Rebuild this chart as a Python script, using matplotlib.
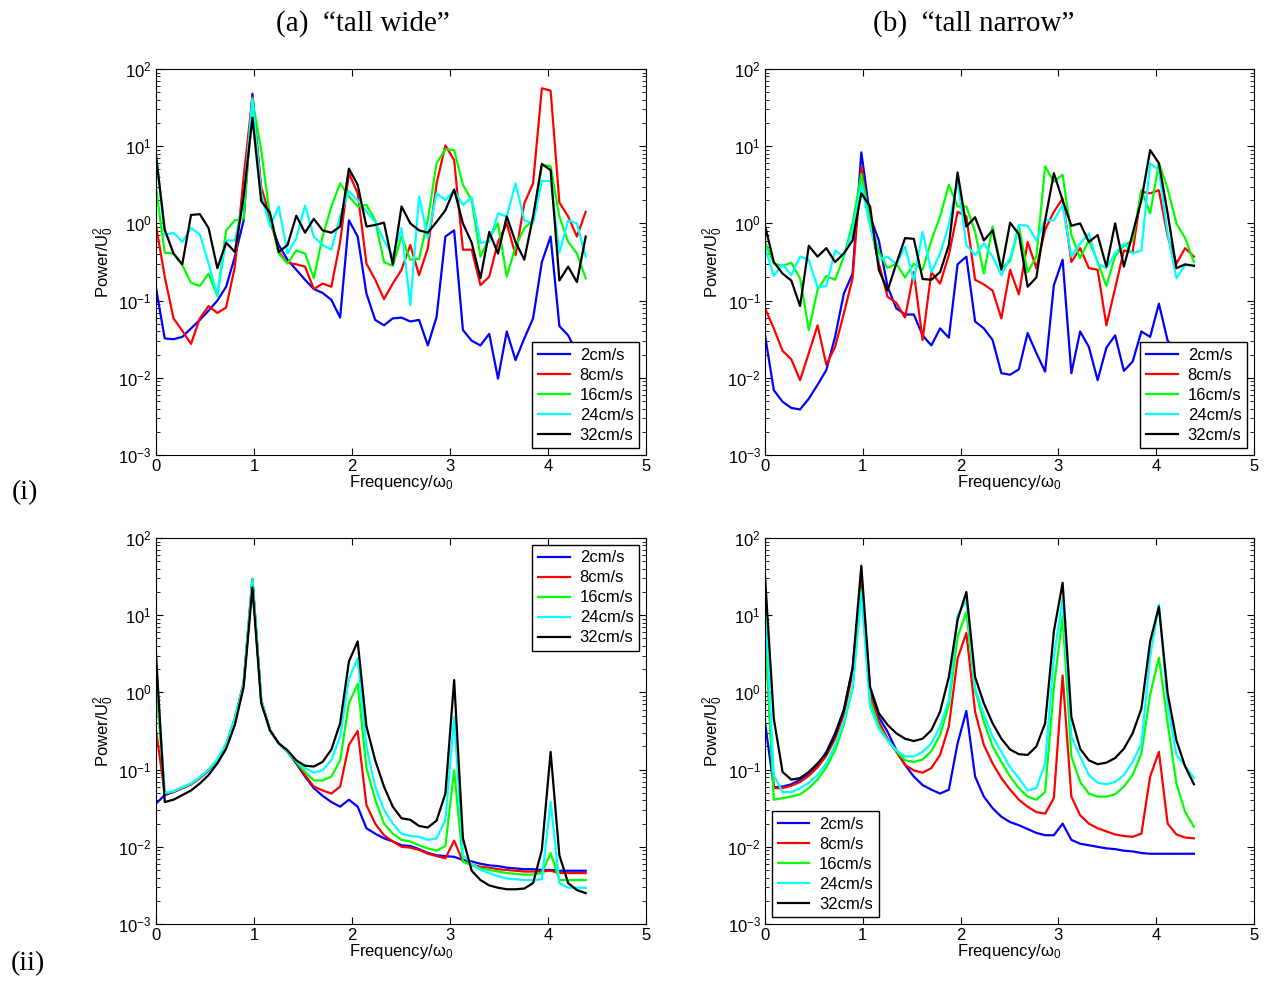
import matplotlib
matplotlib.use("Agg")
import matplotlib.pyplot as plt
import numpy as np

plt.rcParams['font.family'] = ['Liberation Sans', 'DejaVu Sans']
plt.rcParams['mathtext.default'] = 'regular'

# frequency grid (in units of omega_0)
freq = np.arange(50) * 0.0895

speeds = ['2cm/s', '8cm/s', '16cm/s', '24cm/s', '32cm/s']
colors = ['#0000ff', '#ff0000', '#00ff00', '#00ffff', '#000000']

# log10(Power/U0^2)
# (a)(i) tall wide, top row
tw_top = [
    [-0.83, -1.49, -1.50, -1.47, -1.36, -1.25, -1.13, -1.00, -0.82, -0.43, 0.04, 1.68, 0.40, 0.02, -0.28, -0.47, -0.60,
     -0.73, -0.85, -0.90, -0.99, -1.22, 0.04, -0.17, -0.91, -1.25, -1.32, -1.23, -1.22, -1.27, -1.25, -1.58, -1.21,
     -0.17, -0.09, -1.38, -1.52, -1.58, -1.43, -2.01, -1.40, -1.77, -1.49, -1.23, -0.50, -0.17, -1.33, -1.45, -1.68,
     -1.90],
    [-0.02, -0.69, -1.23, -1.39, -1.56, -1.23, -1.07, -1.16, -1.09, -0.56, 0.60, 1.64, 0.47, 0.09, -0.37, -0.51, -0.53,
     -0.56, -0.85, -0.78, -0.82, -0.24, 0.65, 0.39, -0.52, -0.73, -0.98, -0.78, -0.60, -0.28, -0.67, -0.32, 0.52,
     1.01, 0.82, -0.34, -0.34, -0.80, -0.69, -0.24, 0.00, -0.41, 0.26, 0.52, 1.75, 1.72, 0.27, 0.09, -0.17, 0.15],
    [0.47, -0.38, -0.39, -0.54, -0.77, -0.81, -0.65, -0.94, -0.09, 0.04, 0.06, 1.60, 0.95, 0.09, -0.39, -0.52, -0.35,
     -0.39, -0.71, -0.17, 0.22, 0.52, 0.35, 0.22, 0.24, 0.04, -0.50, -0.55, -0.17, -0.47, -0.46, 0.05, 0.78, 0.96,
     0.95, 0.50, 0.30, -0.43, -0.19, 0.00, -0.69, -0.30, -0.06, 0.04, 0.76, 0.74, 0.09, -0.24, -0.39, -0.71],
    [0.91, -0.15, -0.12, -0.24, -0.06, -0.14, -0.52, -0.93, -0.22, -0.22, 0.30, 1.62, 0.39, -0.04, 0.22, -0.39, -0.19,
     0.23, -0.17, -0.28, -0.34, 0.09, 0.42, 0.30, 0.15, 0.02, -0.22, -0.43, -0.06, -1.06, 0.35, -0.19, 0.39, 0.30,
     0.43, 0.24, 0.34, -0.25, -0.24, 0.13, 0.09, 0.52, 0.04, 0.00, 0.55, 0.55, -0.38, 0.04, 0.00, -0.43],
    [0.89, -0.08, -0.39, -0.53, 0.11, 0.12, -0.06, -0.58, -0.25, -0.37, 0.35, 1.37, 0.29, 0.14, -0.37, -0.28, 0.10,
     -0.12, 0.06, -0.09, -0.12, -0.04, 0.71, 0.50, -0.04, -0.02, 0.01, -0.53, 0.22, 0.00, -0.09, -0.12, 0.02, 0.17,
     0.44, 0.00, -0.25, -0.71, -0.11, -0.39, 0.09, -0.24, -0.47, 0.09, 0.77, 0.69, -0.74, -0.56, -0.76, -0.17],
]

# (b)(i) tall narrow, top row
tn_top = [
    [-1.45, -2.16, -2.31, -2.39, -2.41, -2.27, -2.09, -1.90, -1.47, -0.91, -0.65, 0.92, 0.09, -0.22, -0.82, -1.10,
     -1.18, -1.18, -1.45, -1.58, -1.36, -1.48, -0.53, -0.43, -1.27, -1.36, -1.51, -1.94, -1.96, -1.89, -1.42, -1.68,
     -1.92, -0.80, -0.47, -1.94, -1.40, -1.60, -2.03, -1.61, -1.45, -1.91, -1.79, -1.40, -1.47, -1.04, -1.52, -1.64,
     -1.73, -1.77],
    [-1.10, -1.36, -1.65, -1.76, -2.03, -1.68, -1.32, -1.83, -1.60, -1.17, -0.71, 0.73, 0.00, -0.52, -0.95, -1.03,
     -1.22, -0.63, -1.51, -0.63, -0.78, -0.41, 0.15, 0.09, -0.73, -0.79, -0.87, -1.23, -0.60, -0.92, -0.24, -0.58,
     -0.08, 0.15, 0.32, -0.50, -0.32, -0.58, -0.60, -1.32, -0.84, -0.35, -0.37, 0.41, 0.39, 0.43, -0.17, -0.52,
     -0.32, -0.43],
    [-0.24, -0.52, -0.55, -0.51, -0.71, -1.38, -0.86, -0.68, -0.73, -0.43, 0.00, 0.64, 0.04, -0.37, -0.58, -0.52,
     -0.70, -0.52, -0.60, -0.22, 0.09, 0.50, 0.22, 0.22, -0.11, -0.65, -0.04, -0.58, -0.49, -0.04, -0.63, -0.43, 0.74,
     0.54, 0.63, -0.15, -0.45, -0.22, -0.50, -0.81, -0.42, -0.29, -0.22, 0.43, 0.13, 0.78, 0.45, 0.00, -0.19, -0.50],
    [-0.31, -0.68, -0.53, -0.67, -0.43, -0.47, -0.83, -0.81, -0.35, -0.43, -0.09, 0.50, -0.04, -0.47, -0.43, -0.53,
     -0.30, -0.74, -0.11, -0.63, -0.39, -0.02, 0.56, -0.28, -0.41, -0.26, -0.43, -0.67, -0.45, -0.02, -0.03, -0.22,
     0.04, 0.04, 0.24, -0.43, -0.26, -0.13, -0.52, -0.58, -0.39, -0.26, -0.39, -0.35, 0.78, 0.69, -0.13, -0.71,
     -0.54, -0.54],
    [-0.03, -0.50, -0.65, -0.74, -1.07, -0.29, -0.43, -0.32, -0.50, -0.39, -0.22, 0.39, 0.22, -0.60, -0.87, -0.52,
     -0.19, -0.20, -0.72, -0.73, -0.63, -0.28, 0.66, -0.04, 0.08, -0.22, -0.09, -0.60, 0.01, -0.14, -0.82, -0.70,
     0.04, 0.65, 0.30, -0.03, 0.00, -0.24, -0.15, -0.56, 0.00, -0.56, -0.13, 0.30, 0.95, 0.78, 0.13, -0.58, -0.53,
     -0.55],
]

# (a)(ii) tall wide, bottom row
tw_bot = [
    [-1.44, -1.33, -1.29, -1.24, -1.19, -1.11, -1.01, -0.88, -0.68, -0.34, 0.12, 1.46, -0.10, -0.49, -0.66, -0.77,
     -0.92, -1.09, -1.24, -1.34, -1.42, -1.48, -1.39, -1.48, -1.76, -1.83, -1.89, -1.93, -1.98, -1.99, -2.03, -2.08,
     -2.11, -2.12, -2.13, -2.17, -2.19, -2.22, -2.24, -2.25, -2.27, -2.28, -2.29, -2.29, -2.30, -2.30, -2.31, -2.31,
     -2.31, -2.31],
    [-0.48, -1.31, -1.29, -1.24, -1.19, -1.11, -1.01, -0.88, -0.68, -0.34, 0.12, 1.47, -0.10, -0.49, -0.66, -0.77,
     -0.90, -1.07, -1.22, -1.27, -1.31, -1.22, -0.68, -0.50, -1.46, -1.70, -1.85, -1.93, -2.00, -2.01, -2.04, -2.09,
     -2.12, -2.15, -1.92, -2.19, -2.23, -2.26, -2.27, -2.29, -2.30, -2.31, -2.32, -2.32, -2.32, -2.31, -2.34, -2.34,
     -2.34, -2.34],
    [0.14, -1.31, -1.28, -1.23, -1.18, -1.10, -1.00, -0.87, -0.67, -0.33, 0.12, 1.47, -0.10, -0.49, -0.66, -0.77,
     -0.90, -1.03, -1.14, -1.14, -1.09, -0.88, -0.14, 0.11, -0.98, -1.39, -1.70, -1.83, -1.91, -1.93, -1.98, -2.02,
     -2.05, -1.99, -1.01, -2.19, -2.24, -2.28, -2.30, -2.32, -2.34, -2.35, -2.36, -2.36, -2.34, -2.08, -2.43, -2.43,
     -2.43, -2.43],
    [0.38, -1.30, -1.28, -1.23, -1.18, -1.10, -1.00, -0.87, -0.67, -0.34, 0.11, 1.46, -0.10, -0.49, -0.66, -0.77,
     -0.89, -0.98, -1.04, -1.01, -0.88, -0.57, 0.18, 0.44, -0.70, -1.22, -1.52, -1.70, -1.83, -1.86, -1.87, -1.91,
     -1.89, -1.65, -0.32, -2.11, -2.22, -2.30, -2.34, -2.38, -2.41, -2.42, -2.43, -2.43, -2.42, -1.42, -2.47, -2.53,
     -2.53, -2.53],
    [0.51, -1.42, -1.39, -1.33, -1.27, -1.18, -1.07, -0.92, -0.73, -0.42, 0.07, 1.36, -0.14, -0.49, -0.66, -0.75,
     -0.88, -0.95, -0.96, -0.90, -0.74, -0.40, 0.40, 0.66, -0.44, -0.88, -1.22, -1.48, -1.63, -1.65, -1.73, -1.75,
     -1.66, -1.31, 0.16, -1.89, -2.31, -2.43, -2.50, -2.53, -2.55, -2.55, -2.54, -2.47, -2.04, -0.77, -2.11, -2.47,
     -2.56, -2.60],
]

# (b)(ii) tall narrow, bottom row
tn_bot = [
    [-0.39, -1.23, -1.22, -1.19, -1.13, -1.05, -0.94, -0.77, -0.53, -0.23, 0.31, 1.45, 0.03, -0.32, -0.51, -0.75,
     -0.94, -1.09, -1.20, -1.26, -1.31, -1.26, -0.66, -0.24, -1.09, -1.35, -1.50, -1.61, -1.68, -1.72, -1.77, -1.82,
     -1.85, -1.85, -1.70, -1.91, -1.96, -1.98, -2.00, -2.02, -2.03, -2.05, -2.06, -2.08, -2.09, -2.09, -2.09, -2.09,
     -2.09, -2.09],
    [0.79, -1.24, -1.24, -1.21, -1.16, -1.08, -0.97, -0.82, -0.60, -0.29, 0.25, 1.50, -0.03, -0.38, -0.60, -0.77,
     -0.94, -1.01, -1.04, -0.98, -0.81, -0.44, 0.44, 0.77, -0.25, -0.68, -0.92, -1.11, -1.26, -1.39, -1.48, -1.55,
     -1.57, -1.37, 0.22, -1.35, -1.59, -1.70, -1.76, -1.80, -1.84, -1.86, -1.87, -1.83, -1.09, -0.77, -1.70, -1.84,
     -1.88, -1.89],
    [0.85, -1.39, -1.37, -1.35, -1.32, -1.24, -1.13, -0.97, -0.75, -0.42, 0.05, 1.33, -0.10, -0.44, -0.62, -0.76,
     -0.88, -0.90, -0.87, -0.76, -0.55, -0.16, 0.72, 1.04, 0.03, -0.38, -0.70, -0.90, -1.09, -1.24, -1.35, -1.39,
     -1.29, 0.07, 0.98, -0.83, -1.16, -1.31, -1.35, -1.35, -1.32, -1.22, -1.07, -0.79, -0.03, 0.45, -0.40, -1.18,
     -1.55, -1.74],
    [1.17, -1.07, -1.29, -1.29, -1.24, -1.17, -1.07, -0.92, -0.68, -0.38, 0.07, 1.28, -0.19, -0.47, -0.62, -0.75,
     -0.83, -0.83, -0.77, -0.66, -0.44, -0.10, 1.00, 1.20, 0.05, -0.29, -0.57, -0.77, -0.97, -1.11, -1.27, -1.24,
     -0.92, 0.46, 1.22, -0.57, -0.83, -1.07, -1.17, -1.19, -1.16, -1.07, -0.90, -0.66, 0.46, 1.14, -0.16, -0.81,
     -0.95, -1.11],
    [1.50, -0.34, -1.03, -1.13, -1.11, -1.03, -0.92, -0.79, -0.55, -0.23, 0.31, 1.64, 0.07, -0.27, -0.42, -0.53,
     -0.60, -0.63, -0.60, -0.49, -0.25, 0.20, 0.94, 1.30, 0.20, -0.14, -0.40, -0.60, -0.74, -0.80, -0.81, -0.70,
     -0.40, 0.79, 1.42, -0.32, -0.73, -0.88, -0.93, -0.91, -0.85, -0.73, -0.53, -0.21, 0.66, 1.11, -0.01, -0.62,
     -0.96, -1.19],
]

fig = plt.figure(figsize=(12.7, 9.83), dpi=100)

panels = [
    (tw_top, [0.1228, 0.5371, 0.3858, 0.3927], 'lower right'),
    (tn_top, [0.6024, 0.5371, 0.3850, 0.3927], 'lower right'),
    (tw_bot, [0.1228, 0.0600, 0.3858, 0.3927], 'upper right'),
    (tn_bot, [0.6024, 0.0600, 0.3850, 0.3927], 'lower left'),
]

for data, rect, loc in panels:
    ax = fig.add_axes(rect)
    for logp, lab, c in zip(data, speeds, colors):
        ax.semilogy(freq, 10 ** np.array(logp), color=c, lw=1.6, label=lab)
    ax.set_xlim(0, 5)
    ax.set_ylim(1e-3, 1e2)
    ax.set_xticks([0, 1, 2, 3, 4, 5])
    ax.tick_params(which='both', direction='in', top=True, right=True, labelsize=12, pad=3)
    ax.tick_params(which='major', length=5)
    ax.tick_params(which='minor', length=3)
    ax.set_xlabel('Frequency/ω$_0$', fontsize=12, labelpad=-1)
    ax.set_ylabel('Power/U$_0^2$', fontsize=12, labelpad=2)
    leg = ax.legend(loc=loc, fontsize=12, fancybox=False, edgecolor='black', framealpha=1,
                    handlelength=1.9, handletextpad=0.6, labelspacing=0.3,
                    borderaxespad=0.4, borderpad=0.35)
    leg.get_frame().set_linewidth(1.0)

serif = ['Liberation Serif', 'DejaVu Serif']
fig.text(0.2858, 0.976, '(a)  \u201ctall wide\u201d', ha='center', va='center', fontsize=21, family=serif)
fig.text(0.7669, 0.976, '(b)  \u201ctall narrow\u201d', ha='center', va='center', fontsize=21, family=serif)
fig.text(0.020, 0.499, '(i)', ha='center', va='center', fontsize=20, family=serif)
fig.text(0.022, 0.020, '(ii)', ha='center', va='center', fontsize=20, family=serif)

fig.savefig('out.png', dpi=100)
